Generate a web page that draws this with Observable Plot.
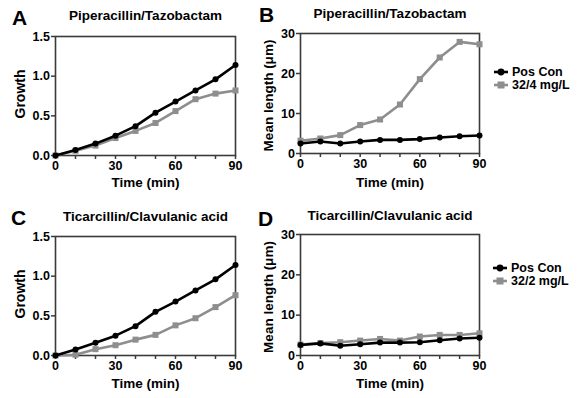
<!DOCTYPE html>
<html>
<head>
<meta charset="utf-8">
<script src="https://cdn.jsdelivr.net/npm/d3@7"></script>
<script src="https://cdn.jsdelivr.net/npm/@observablehq/plot@0.6"></script>
<style>
  html, body { margin: 0; padding: 0; background: #fff; }
  #wrap { position: relative; width: 582px; height: 398px; overflow: hidden; font-family: "Liberation Sans", Arial, sans-serif; }
  .panel { position: absolute; }
  .panel svg { overflow: visible; }
  .legend { position: absolute; font-weight: bold; font-size: 12.5px; color: #000; }
  .legend .row { display: flex; align-items: center; height: 13.5px; }
  .legend svg { margin-right: 4px; }
</style>
</head>
<body>
<div id="wrap"></div>
<script>
// ---- data ----
const time = [0, 10, 20, 30, 40, 50, 60, 70, 80, 90];
const xTickValues = [0, 10, 20, 30, 40, 50, 60, 70, 80, 90];
const xTickLabels = [0, 30, 60, 90];
const growthTicks = [0, 0.5, 1.0, 1.5];
const lengthTicks = [0, 10, 20, 30];

const titles = ["Piperacillin/Tazobactam", "Piperacillin/Tazobactam", "Ticarcillin/Clavulanic acid", "Ticarcillin/Clavulanic acid"];
const letters = ["A", "B", "C", "D"];
const seriesNames = ["Pos Con"];
const drugLabelB = "32/4 mg/L";
const drugLabelD = "32/2 mg/L";

// Panel A: growth (piperacillin/tazobactam)
const aPosCon = [0.0, 0.07, 0.15, 0.25, 0.37, 0.54, 0.68, 0.82, 0.96, 1.14];
const aDrug   = [0.0, 0.06, 0.125, 0.22, 0.31, 0.41, 0.56, 0.71, 0.78, 0.82];
// Panel B: mean length (piperacillin/tazobactam)
const bPosCon = [2.5, 3.0, 2.5, 3.0, 3.4, 3.4, 3.6, 4.0, 4.3, 4.5];
const bDrug   = [3.2, 3.75, 4.6, 7.1, 8.5, 12.25, 18.6, 24.0, 27.9, 27.3];
// Panel C: growth (ticarcillin/clavulanic acid)
const cPosCon = [0.0, 0.075, 0.16, 0.25, 0.37, 0.55, 0.68, 0.82, 0.96, 1.14];
const cDrug   = [0.0, 0.01, 0.08, 0.13, 0.2, 0.26, 0.38, 0.47, 0.61, 0.76];
// Panel D: mean length (ticarcillin/clavulanic acid)
const dPosCon = [2.6, 3.0, 2.4, 2.8, 3.2, 3.2, 3.3, 3.8, 4.2, 4.4];
const dDrug   = [2.7, 3.1, 3.3, 3.7, 4.1, 3.7, 4.7, 5.1, 5.1, 5.5];

const BLACK = "#000";
const GRAY = "#8e8e8e";
const AXIS = "#3a3a3a";
const FONT = "Liberation Sans, Arial, sans-serif";

function rows(ys) { return time.map((t, i) => ({t, v: ys[i]})); }

function label(txt, o) {
  return Plot.text([txt], {textAnchor: "middle", lineAnchor: "middle", fontWeight: "bold", fill: "#000", fontSize: 13.5, ...o});
}

function panel(opts) {
  const {posCon, drug, yDomain, yTicks, yFormat, yLabel, yLabelSize, title, letter,
         width, height, mt, mb, ml, mr, titleDy, letterDx, letterDy, yLabelDx, yLabelDy, xLabelDy} = opts;
  return Plot.plot({
    width, height,
    marginTop: mt, marginBottom: mb, marginLeft: ml, marginRight: mr,
    style: {fontFamily: FONT, fontWeight: "bold", fontSize: "12px", color: "#000", background: "transparent", overflow: "visible"},
    x: {domain: [0, 90]},
    y: {domain: yDomain},
    marks: [
      Plot.axisX({ticks: xTickValues, tickFormat: d => xTickLabels.includes(d) ? String(d) : "", tickSize: 4, tickPadding: 2, stroke: AXIS, strokeWidth: 1.5, label: null, fontSize: 12.5}),
      Plot.axisY({ticks: yTicks, tickFormat: yFormat, tickSize: 4, tickPadding: 1.5, stroke: AXIS, strokeWidth: 1.5, label: null, fontSize: 12.5}),
      Plot.frame({stroke: AXIS, strokeWidth: 1.6}),
      Plot.line(rows(drug), {x: "t", y: "v", stroke: GRAY, strokeWidth: 2.6}),
      Plot.dot(rows(drug), {x: "t", y: "v", symbol: "square", r: 3.4, fill: GRAY}),
      Plot.line(rows(posCon), {x: "t", y: "v", stroke: BLACK, strokeWidth: 2.6}),
      Plot.dot(rows(posCon), {x: "t", y: "v", r: 3, fill: BLACK}),
      label(title, {frameAnchor: "top", dy: titleDy}),
      label("Time (min)", {frameAnchor: "bottom", dy: xLabelDy}),
      label(yLabel, {frameAnchor: "left", dx: yLabelDx, dy: yLabelDy, rotate: -90, fontSize: yLabelSize}),
      label(letter, {frameAnchor: "top-left", dx: letterDx, dy: letterDy, fontSize: 21})
    ]
  });
}

const wrap = document.getElementById("wrap");
function place(el, left, top) {
  const d = document.createElement("div");
  d.className = "panel";
  d.style.left = left + "px";
  d.style.top = top + "px";
  d.appendChild(el);
  wrap.appendChild(d);
}

const growthFmt = d => d.toFixed(1);
const lenFmt = d => String(d);

place(panel({posCon: aPosCon, drug: aDrug, yDomain: [0, 1.5], yTicks: growthTicks, yFormat: growthFmt,
  yLabel: "Growth", yLabelSize: 14, title: titles[0], letter: letters[0],
  width: 290, height: 200, mt: 36, mb: 45, ml: 55, mr: 55,
  titleDy: -21, letterDx: -36, letterDy: -18, yLabelDx: -35, yLabelDy: -2, xLabelDy: 27}), 0, 0);

place(panel({posCon: bPosCon, drug: bDrug, yDomain: [0, 30], yTicks: lengthTicks, yFormat: lenFmt,
  yLabel: "Mean length (\u03bcm)", yLabelSize: 13.5, title: titles[1], letter: letters[1],
  width: 245, height: 200, mt: 33, mb: 47, ml: 55, mr: 11,
  titleDy: -20, letterDx: -34, letterDy: -18, yLabelDx: -32, yLabelDy: 2, xLabelDy: 29}), 245, 0);

place(panel({posCon: cPosCon, drug: cDrug, yDomain: [0, 1.5], yTicks: growthTicks, yFormat: growthFmt,
  yLabel: "Growth", yLabelSize: 14, title: titles[2], letter: letters[2],
  width: 290, height: 200, mt: 36, mb: 45, ml: 55, mr: 55,
  titleDy: -20, letterDx: -37, letterDy: -18, yLabelDx: -35, yLabelDy: -2, xLabelDy: 28}), 0, 200);

place(panel({posCon: dPosCon, drug: dDrug, yDomain: [0, 30], yTicks: lengthTicks, yFormat: lenFmt,
  yLabel: "Mean length (\u03bcm)", yLabelSize: 13.5, title: titles[3], letter: letters[3],
  width: 245, height: 200, mt: 34, mb: 45, ml: 55, mr: 11,
  titleDy: -19, letterDx: -35, letterDy: -15, yLabelDx: -32, yLabelDy: 2, xLabelDy: 28}), 245, 200);

function legend(left, top, drugLabel) {
  const d = document.createElement("div");
  d.className = "legend";
  d.style.left = left + "px";
  d.style.top = top + "px";
  const items = [{name: seriesNames[0], color: BLACK, shape: "circle"}, {name: drugLabel, color: GRAY, shape: "square"}];
  for (const it of items) {
    const r = document.createElement("div");
    r.className = "row";
    const mark = it.shape === "circle"
      ? `<circle cx="7" cy="5" r="3.4" fill="${it.color}"/>`
      : `<rect x="3.5" y="1.5" width="7" height="7" fill="${it.color}"/>`;
    r.innerHTML = `<svg width="14" height="10"><line x1="0" x2="14" y1="5" y2="5" stroke="${it.color}" stroke-width="2.6"/>${mark}</svg><span>${it.name}</span>`;
    d.appendChild(r);
  }
  wrap.appendChild(d);
}
legend(494, 65, drugLabelB);
legend(493, 261, drugLabelD);
</script>
</body>
</html>
